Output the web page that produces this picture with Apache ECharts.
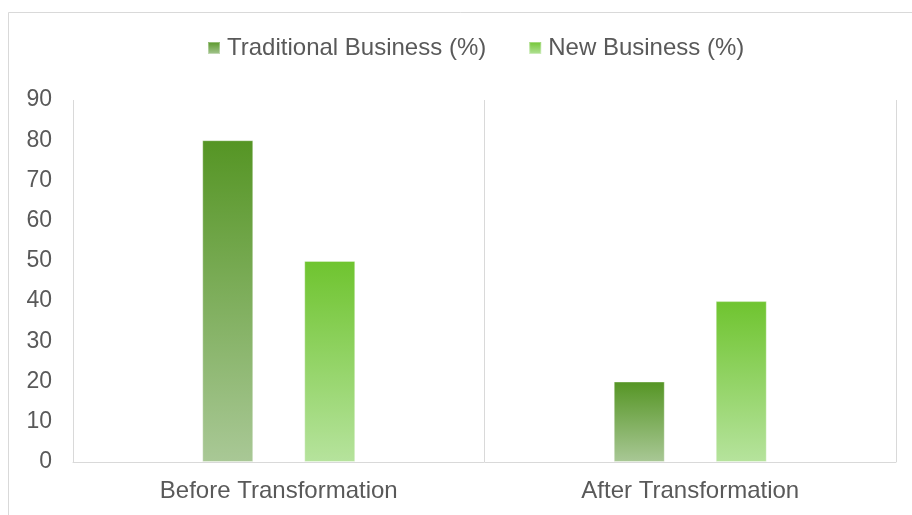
<!DOCTYPE html>
<html>
<head>
<meta charset="utf-8">
<script src="https://cdn.jsdelivr.net/npm/echarts@6/dist/echarts.min.js"></script>
<style>
  html, body { margin: 0; padding: 0; background: #fff; }
  #chart { width: 912px; height: 515px; }
</style>
</head>
<body>
<div id="chart"></div>
<script>
const categories = ['Before Transformation', 'After Transformation']
const seriesNames = ['Traditional Business (%)', 'New Business (%)']
const traditionalValues = [80, 20]
const newValues = [50, 40]

const font = '"Liberation Sans", Arial, sans-serif'
const textColor = '#595959'
const lineColor = '#d9d9d9'

// vertical gradient per bar, dark on top
const grad = (top, bottom) => new echarts.graphic.LinearGradient(0, 0, 0, 1, [
  { offset: 0, color: top },
  { offset: 1, color: bottom }
])

const chart = echarts.init(document.getElementById('chart'))

const option = {
  animation: false,
  backgroundColor: '#fff',
  textStyle: { fontFamily: font },
  graphic: [{
    type: 'rect',
    shape: { x: 8.5, y: 12.5, width: 940, height: 540 },
    style: { fill: 'none', stroke: lineColor, lineWidth: 1 },
    silent: true
  }],
  legend: {
    top: 31,
    left: 202,
    icon: 'rect',
    itemWidth: 12,
    itemHeight: 12,
    itemGap: 42,
    textStyle: { fontFamily: font, fontSize: 24, color: textColor, padding: [0, 0, 0, 2] },
    data: seriesNames
  },
  grid: {
    left: 73,
    right: 16,
    top: 100,
    bottom: 53,
    containLabel: false
  },
  xAxis: {
    type: 'category',
    data: categories,
    axisLine: { show: true, lineStyle: { color: lineColor, width: 1 } },
    axisTick: { show: false },
    axisLabel: { fontFamily: font, fontSize: 24, color: textColor, margin: 17 },
    splitLine: { show: true, lineStyle: { color: lineColor, width: 1 } }
  },
  yAxis: {
    type: 'value',
    min: 0,
    max: 90,
    interval: 10,
    axisLine: { show: false },
    axisTick: { show: false },
    splitLine: { show: false },
    axisLabel: { fontFamily: font, fontSize: 23, color: textColor, margin: 21 }
  },
  series: [
    {
      name: seriesNames[0],
      type: 'bar',
      data: traditionalValues,
      barWidth: 51,
      barGap: '100%',
      itemStyle: {
        color: grad('#559524', '#a9c896'),
        borderColor: 'rgba(255,255,255,0.35)',
        borderWidth: 1
      }
    },
    {
      name: seriesNames[1],
      type: 'bar',
      data: newValues,
      barWidth: 51,
      barGap: '100%',
      itemStyle: {
        color: grad('#6fc42f', '#b6e39d'),
        borderColor: 'rgba(255,255,255,0.35)',
        borderWidth: 1
      }
    }
  ]
}

chart.setOption(option)
</script>
</body>
</html>
